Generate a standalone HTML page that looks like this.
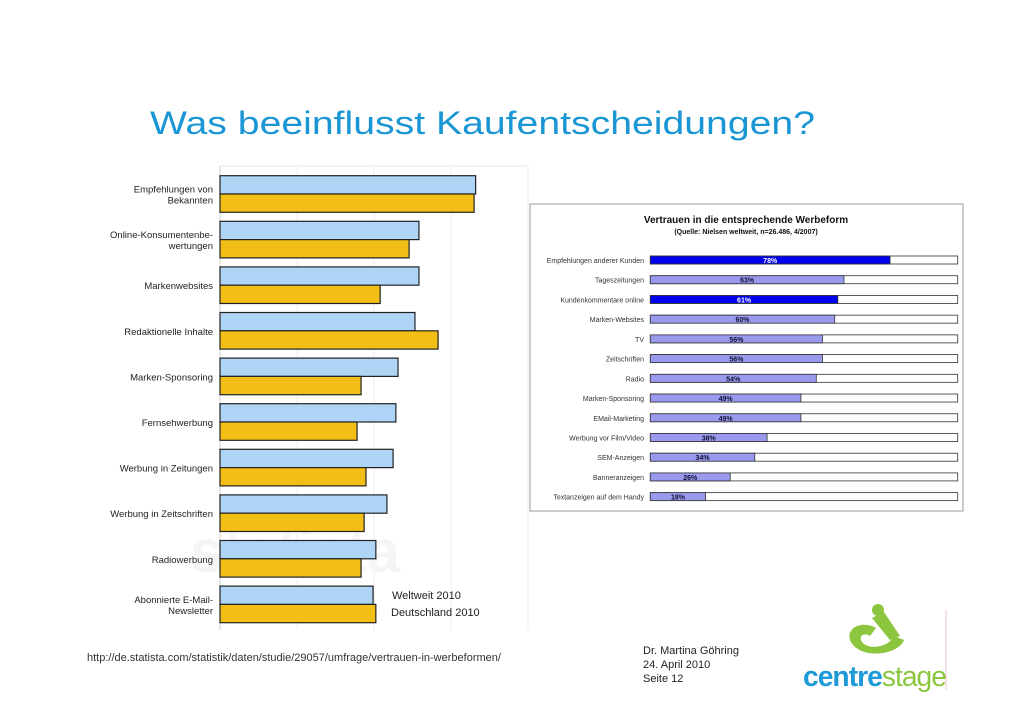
<!DOCTYPE html>
<html><head><meta charset="utf-8"><style>
body{margin:0;background:#fff;width:1030px;height:728px;overflow:hidden;font-family:"Liberation Sans",sans-serif}
svg{position:absolute;left:0;top:0}
</style></head><body>
<svg width="1030" height="728">
<text x="150" y="134" font-size="32" fill="#1a96d4" textLength="665" lengthAdjust="spacingAndGlyphs">Was beeinflusst Kaufentscheidungen?</text>
<g id="left"></g>
<g id="right"></g>
<text x="392" y="599" font-size="11" fill="#222">Weltweit 2010</text>
<text x="391" y="616" font-size="11" fill="#222">Deutschland 2010</text>
<text x="87" y="661" font-size="11" fill="#333">http://de.statista.com/statistik/daten/studie/29057/umfrage/vertrauen-in-werbeformen/</text>
<text x="643" y="654" font-size="11" fill="#222">Dr. Martina Göhring</text>
<text x="643" y="668" font-size="11" fill="#222">24. April 2010</text>
<text x="643" y="682" font-size="11" fill="#222">Seite 12</text>
<line x1="946" y1="610" x2="946" y2="690" stroke="#e8c8c8"/>
<g>
<path d="M850 640 C846 628 862 620 876 628 L870 636 C864 632 858 636 862 642 C868 650 888 648 894 636 L904 640 C898 656 858 660 850 640Z" fill="#8cc63f"/>
<path d="M872 618 L884 612 L900 636 L890 640Z" fill="#8cc63f"/>
<circle cx="878" cy="610" r="6" fill="#8cc63f"/>
<text x="803" y="686" font-size="29" font-weight="bold" fill="#1e9ad8" textLength="143" lengthAdjust="spacingAndGlyphs" letter-spacing="-1">centre<tspan fill="#8cc63f" font-weight="normal">stage</tspan></text>
</g>
</svg>
<script>
const leftCats=["Empfehlungen von|Bekannten","Online-Konsumentenbe-|wertungen","Markenwebsites","Redaktionelle Inhalte","Marken-Sponsoring","Fernsehwerbung","Werbung in Zeitungen","Werbung in Zeitschriften","Radiowerbung","Abonnierte E-Mail-|Newsletter"];
const weltweit=[83,64.6,64.6,63.3,57.8,57.1,56.2,54.2,50.6,49.7];
const deutschland=[82.5,61.4,52,70.8,45.8,44.5,47.4,46.8,45.8,50.6];
const leftTicks=[0,25,50,75,100];
const rightCats=["Empfehlungen anderer Kunden","Tageszeitungen","Kundenkommentare online","Marken-Websites","TV","Zeitschriften","Radio","Marken-Sponsoring","EMail-Marketing","Werbung vor Film/Video","SEM-Anzeigen","Banneranzeigen","Textanzeigen auf dem Handy"];
const vertrauen=[78,63,61,60,56,56,54,49,49,38,34,26,18];
const highlight=[1,0,1,0,0,0,0,0,0,0,0,0,0];
const NS="http://www.w3.org/2000/svg";
function mk(p,t,a){const e=document.createElementNS(NS,t);for(const k in a)e.setAttribute(k,a[k]);p.appendChild(e);return e;}
const L=document.getElementById('left');
const lx=v=>220+v*3.08, ly=i=>175.7+i*45.6;
let g=mk(L,'line',{x1:220,y1:166,x2:527,y2:166,stroke:'#e4e4e4'});

leftTicks.forEach(t=>{const l=mk(L,'line',{x1:lx(t),y1:166,x2:lx(t),y2:630,stroke:t?'#eeeeee':'#ccc'});
});
const wm=mk(L,'text',{x:190,y:572,'font-size':'60','font-weight':'bold',fill:'#f5f5f5'});wm.textContent='statista';

leftCats.forEach((c,i)=>{
 const y=ly(i);
 const b1=mk(L,'rect',{x:220,y:y,width:lx(weltweit[i])-220,height:18.3,fill:'#aed4f6',stroke:'#222','stroke-width':1.2});
 
 const b2=mk(L,'rect',{x:220,y:y+18.3,width:lx(deutschland[i])-220,height:18.3,fill:'#f3be15',stroke:'#222','stroke-width':1.2});
 
 const parts=c.split('|');
 parts.forEach((p,k)=>{const t=mk(L,'text',{x:213,y:y+18.3+4+(k-(parts.length-1)/2)*11,'font-size':'9.5','text-anchor':'end',fill:'#222'});t.textContent=p;
 });
});
const R=document.getElementById('right');
const fr=mk(R,'rect',{x:530,y:204,width:433,height:307,fill:'#fff',stroke:'#999'});

let t=mk(R,'text',{x:746,y:223,'font-size':'10','font-weight':'bold','text-anchor':'middle',fill:'#111'});t.textContent='Vertrauen in die entsprechende Werbeform';

t=mk(R,'text',{x:746,y:234,'font-size':'7','font-weight':'bold','text-anchor':'middle',fill:'#111'});t.textContent='(Quelle: Nielsen weltweit, n=26.486, 4/2007)';

const rx=v=>650.3+v*3.074, ry=i=>260+i*19.72;
rightCats.forEach((c,i)=>{
 const y=ry(i);
 const bg=mk(R,'rect',{x:650.3,y:y-4,width:307.4,height:8,fill:'#fff',stroke:'#333','stroke-width':0.8});
 
 const b=mk(R,'rect',{x:650.3,y:y-4,width:rx(vertrauen[i])-650.3,height:8,fill:highlight[i]?'#0000ee':'#9999ee',stroke:'#333','stroke-width':0.8});
 
 const v=mk(R,'text',{x:(650.3+rx(vertrauen[i]))/2,y:y+3,'font-size':'7','font-weight':'bold','text-anchor':'middle',fill:highlight[i]?'#fff':'#113'});v.textContent=vertrauen[i]+'%';
 
 const l=mk(R,'text',{x:644,y:y+3,'font-size':'7','text-anchor':'end',fill:'#333'});l.textContent=c;
 
});
</script>
</body></html>
